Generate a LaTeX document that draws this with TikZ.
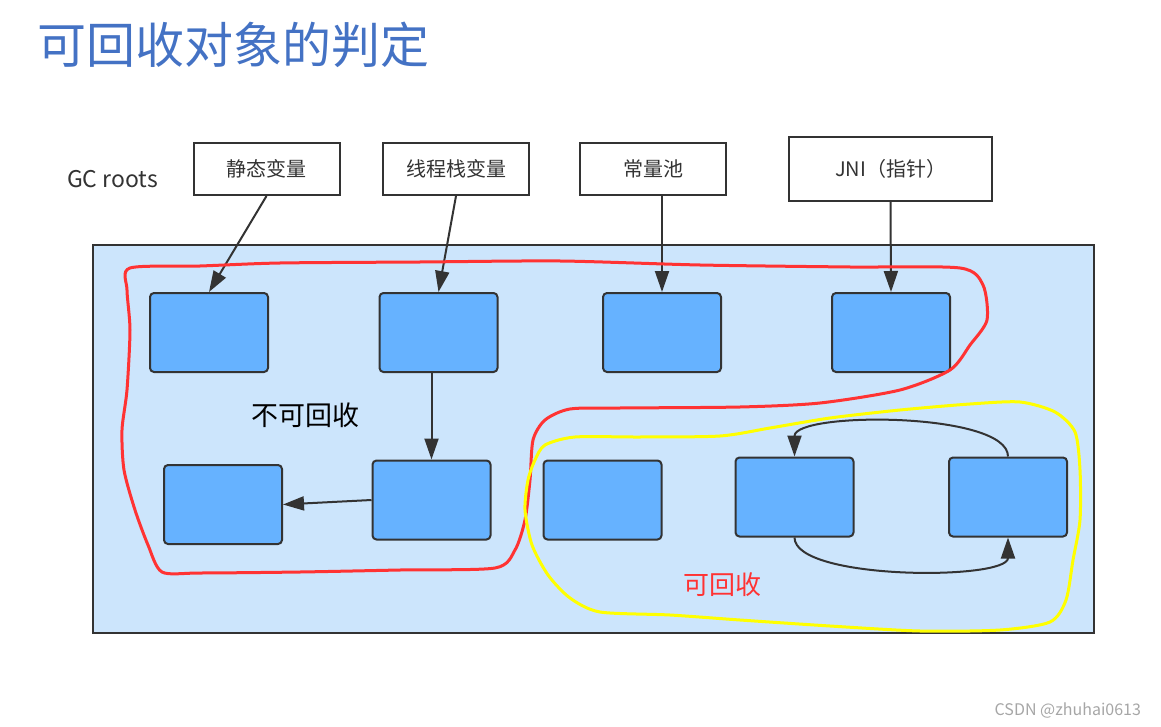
\documentclass[tikz,border=0pt]{standalone}
\usepackage{fontspec}
\setmainfont{Noto Sans CJK SC}
\usetikzlibrary{arrows.meta}

\definecolor{heapblue}{HTML}{CCE5FC}
\definecolor{objblue}{HTML}{66B2FF}
\definecolor{titleblue}{HTML}{4472C4}
\definecolor{edgegray}{HTML}{333333}
\definecolor{markred}{HTML}{FF3333}
\definecolor{markyellow}{HTML}{FFFF00}

\begin{document}
\begin{tikzpicture}[x=0.5pt, y=-0.5pt,
    root/.style = {draw=edgegray, line width=1pt, fill=white, inner sep=0pt,
                   minimum width=73pt, minimum height=26pt, text=edgegray, font=\fontsize{10pt}{12pt}\selectfont},
    obj/.style = {draw=edgegray, line width=1pt, fill=objblue, rounded corners=2pt,
                  inner sep=0pt, minimum width=59pt, minimum height=39.5pt},
    ref/.style = {draw=edgegray, line width=1pt, -{Triangle[length=10.5pt,width=7pt]}},
    outline/.style = {line width=1.5pt, smooth cycle, tension=0.45}]

    \useasboundingbox (0,0) rectangle (1161,727);

    \node[anchor=west, text=titleblue, font=\fontsize{24.5pt}{28pt}\selectfont] (title) at (30,45) {可回收对象的判定};
    \node[anchor=west, text=edgegray, font=\fontsize{11.5pt}{14pt}\selectfont] (gc) at (60,179) {GC roots};

    \node[root] (r1) at (266.5,169) {静态变量};
    \node[root] (r2) at (456,169) {线程栈变量};
    \node[root] (r3) at (653,169) {常量池};
    \node[root, minimum width=101.5pt, minimum height=32pt] (r4) at (890.5,169) {JNI（指针）};

    \draw[edgegray, line width=1pt, fill=heapblue] (93,245) rectangle (1094,633);

    \node[obj] (a1) at (209,332.5) {};
    \node[obj] (a2) at (438.5,332.5) {};
    \node[obj] (a3) at (662,332.5) {};
    \node[obj] (a4) at (891,332.5) {};
    \node[obj] (b1) at (223,504.5) {};
    \node[obj] (b2) at (431.5,500) {};
    \node[obj] (b3) at (602.5,500) {};
    \node[obj] (b4) at (794.5,497) {};
    \node[obj] (b5) at (1008,497) {};

    \draw[ref] (r1.south) -- (a1.north);
    \draw[ref] (r2.south) -- (a2.north);
    \draw[ref] (a3.north |- r3.south) -- (a3.north);
    \draw[ref] (r4.south) -- (a4.north);
    \draw[ref] (b2.north |- a2.south) -- (b2.north);
    \draw[ref] (b2.west) -- (b1.east);
    \draw[ref] (b5.north) .. controls +(0,-45) and +(0,-45) .. (b4.north);
    \draw[ref] (b4.south) .. controls +(0,43) and +(0,43) .. (b5.south);

    \draw[outline, markred] plot coordinates {(130,268) (200,266) (280,263) (420,262) (560,261)
        (700,265) (850,267) (960,268) (983,285) (987,320) (970,345) (950,370) (900,390)
        (820,403) (740,407) (620,408) (570,409) (545,420) (533,440) (530,480) (525,520)
        (515,550) (495,568) (400,570) (300,572) (200,573) (162,572) (148,545) (135,510)
        (124,470) (122,430) (127,390) (130,330) (127,290)};
    \draw[outline, markyellow] plot coordinates {(545,445) (575,437) (640,437) (720,436)
        (770,428) (830,418) (900,410) (970,404) (1020,402) (1055,412) (1075,432) (1080,470)
        (1080,520) (1073,560) (1066,600) (1050,622) (1000,630) (920,631) (830,626)
        (740,620) (670,615) (600,612) (570,598) (548,575) (532,545) (525,510) (528,480)
        (535,460)};

    \node[font=\fontsize{13.5pt}{16pt}\selectfont] (keep) at (305,415) {不可回收};
    \node[text=markred, font=\fontsize{13pt}{16pt}\selectfont] (free) at (722,585) {可回收};

    \node[anchor=east, text=gray!70, font=\fontsize{8pt}{10pt}\selectfont] (sign) at (1148,711) {CSDN @zhuhai0613};

\end{tikzpicture}
\end{document}
